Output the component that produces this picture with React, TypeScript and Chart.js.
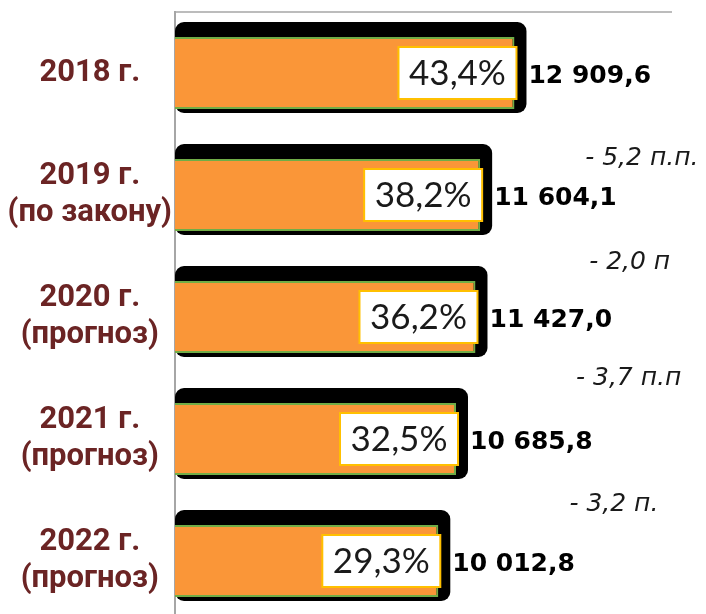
import React, { useEffect, useRef } from 'react';
import { Chart, registerables } from 'chart.js';

Chart.register(...registerables);

const categories: string[][] = [
  ['2018 г.'],
  ['2019 г.', '(по закону)'],
  ['2020 г.', '(прогноз)'],
  ['2021 г.', '(прогноз)'],
  ['2022 г.', '(прогноз)'],
];
const values = [12909.6, 11604.1, 11427.0, 10685.8, 10012.8];
const valueLabels = ['12 909,6', '11 604,1', '11 427,0', '10 685,8', '10 012,8'];
const shares = ['43,4%', '38,2%', '36,2%', '32,5%', '29,3%'];
const changeNotes = ['- 5,2 п.п.', '- 2,0 п', '- 3,7 п.п', '- 3,2 п.'];
const noteX = [15600, 15750, 15250, 15000];
const noteY = [0.7, 1.55, 2.5, 3.54];
const xMax = 18900;

const decor = {
  id: 'decor',
  beforeDatasetsDraw(chart: any) {
    const ctx = chart.ctx;
    const meta = chart.getDatasetMeta(0);
    ctx.save();
    ctx.fillStyle = '#000';
    meta.data.forEach((bar: any) => {
      const { x, y, base, height } = bar.getProps(['x', 'y', 'base', 'height'], true);
      const top = y - height / 2;
      ctx.beginPath();
      ctx.roundRect(base, top - 15, x - base + 12, height + 19, 9);
      ctx.fill();
    });
    ctx.restore();
  },
  afterDatasetsDraw(chart: any) {
    const { ctx, chartArea } = chart;
    const meta = chart.getDatasetMeta(0);
    ctx.save();
    ctx.strokeStyle = '#A6A6A6';
    ctx.lineWidth = 1.5;
    ctx.beginPath();
    ctx.moveTo(chartArea.left, chartArea.top);
    ctx.lineTo(chartArea.right, chartArea.top);
    ctx.stroke();

    meta.data.forEach((bar: any, i: number) => {
      const { x, y } = bar.getProps(['x', 'y'], true);
      const boxW = 118;
      const boxH = 52;
      const bx = x + 2 - boxW;
      const by = y - boxH / 2;
      ctx.fillStyle = '#ffffff';
      ctx.fillRect(bx, by, boxW, boxH);
      ctx.strokeStyle = '#FFC000';
      ctx.lineWidth = 2;
      ctx.strokeRect(bx, by, boxW, boxH);
      ctx.fillStyle = '#1a1a1a';
      ctx.font = '35px Lato';
      ctx.textAlign = 'center';
      ctx.textBaseline = 'middle';
      ctx.fillText(shares[i], bx + boxW / 2, y + 1);

      ctx.fillStyle = '#000';
      ctx.font = 'bold 25px "DejaVu Sans"';
      ctx.textAlign = 'left';
      ctx.fillText(valueLabels[i], x + 14, y + 3);
    });

    const xs = chart.scales.x;
    const ys = chart.scales.y;
    ctx.fillStyle = '#1a1a1a';
    ctx.font = 'italic 25px "DejaVu Sans"';
    ctx.textAlign = 'left';
    ctx.textBaseline = 'middle';
    changeNotes.forEach((t, i) => {
      ctx.fillText(t, xs.getPixelForValue(noteX[i]), ys.getPixelForValue(noteY[i]));
    });
    ctx.restore();
  },
};

export default function App() {
  const ref = useRef<HTMLCanvasElement>(null);
  useEffect(() => {
    if (!ref.current) return;
    const chart = new Chart(ref.current, {
      type: 'bar',
      data: {
        labels: categories,
        datasets: [
          {
            data: values,
            backgroundColor: '#FA9638',
            borderColor: '#70AD47',
            borderWidth: 2,
            borderSkipped: 'start',
            barPercentage: 0.59,
            categoryPercentage: 1,
          },
        ],
      },
      options: {
        indexAxis: 'y',
        responsive: false,
        maintainAspectRatio: false,
        animation: false,
        layout: { padding: { top: 12, right: 34, left: 0, bottom: 0 } },
        plugins: { legend: { display: false }, tooltip: { enabled: false } },
        scales: {
          x: { type: 'linear', min: 0, max: xMax, display: false },
          y: {
            type: 'category',
            grid: { display: false, drawTicks: false },
            border: { display: true, color: '#A6A6A6', width: 2 },
            afterFit: (scale: any) => {
              scale.width = 175;
              scale.paddingTop = 0;
              scale.paddingBottom = 0;
            },
            ticks: {
              crossAlign: 'center',
              padding: 3,
              color: '#6B2424',
              font: { family: 'Roboto', weight: 'bold', size: 31, lineHeight: 1.2 },
            },
          },
        },
      },
      plugins: [decor],
    });
    return () => chart.destroy();
  }, []);
  return (
    <div style={{ position: 'fixed', left: 0, top: 0, width: 706, height: 622, background: '#fff' }}>
      <canvas ref={ref} width={706} height={622} style={{ display: 'block' }} />
    </div>
  );
}
